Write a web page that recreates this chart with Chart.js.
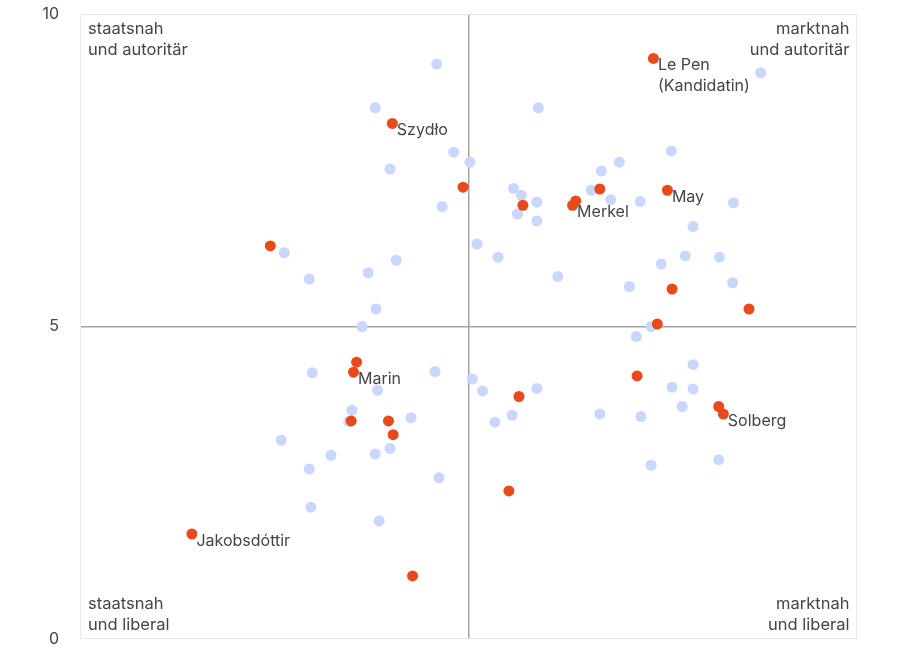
<!DOCTYPE html>
<html>
<head>
<meta charset="utf-8">
<script src="https://cdn.jsdelivr.net/npm/chart.js@4"></script>
<style>
  html, body { margin: 0; padding: 0; background: #fff; }
  #wrap { width: 900px; height: 650px; }
</style>
</head>
<body>
<div id="wrap"><canvas id="chart"></canvas></div>
<script>
// Regierungschefs (rot) und übrige Parteien (blau)
const leaderX = [7.38, 4.02, 2.45, 4.93, 5.70, 6.38, 6.34, 6.69, 7.56, 7.62, 8.61, 7.43,
                 7.17, 3.56, 3.52, 3.49, 3.97, 4.03, 5.65, 5.52, 8.22, 8.28, 1.44, 4.28];
const leaderY = [9.29, 8.25, 6.29, 7.23, 6.94, 7.01, 6.94, 7.20, 7.18, 5.60, 5.28, 5.04,
                 4.21, 4.43, 4.27, 3.49, 3.49, 3.27, 3.88, 2.37, 3.72, 3.60, 1.68, 1.01];
const leaderNames = ["Le Pen\n(Kandidatin)", "Szydło", "", "", "", "", "Merkel", "", "May", "", "", "",
                     "", "", "Marin", "", "", "", "", "", "", "Solberg", "Jakobsdóttir", ""];

const otherX = [4.59, 3.80, 3.99, 4.66, 2.63, 2.95, 3.71, 4.07, 3.81, 3.63, 4.81, 5.02,
                5.90, 8.76, 7.61, 6.94, 6.71, 5.58, 5.68, 5.88, 5.63, 5.88, 6.58, 6.83,
                7.21, 8.41, 7.89, 5.11, 5.38, 7.79, 8.23, 7.48, 6.15, 7.07, 8.40, 7.35,
                7.16, 2.99, 4.57, 3.83, 3.50, 3.46, 4.26, 2.59, 3.23, 2.95, 3.80, 3.99,
                4.62, 2.97, 3.85, 5.05, 5.18, 5.88, 7.89, 7.62, 7.89, 7.75, 5.34, 5.56,
                6.69, 7.22, 7.35, 8.22];
const otherY = [9.20, 8.50, 7.52, 6.92, 6.18, 5.76, 5.86, 6.06, 5.28, 5.00, 7.79, 7.63,
                8.50, 9.06, 7.81, 7.63, 7.49, 7.21, 7.10, 6.99, 6.80, 6.69, 7.18, 7.03,
                7.00, 6.98, 6.60, 6.32, 6.11, 6.13, 6.11, 6.00, 5.80, 5.64, 5.70, 5.00,
                4.84, 4.26, 4.28, 3.98, 3.66, 3.48, 3.54, 3.18, 2.94, 2.72, 2.96, 3.05,
                2.58, 2.11, 1.89, 4.16, 3.97, 4.01, 4.39, 4.03, 4.00, 3.72, 3.47, 3.58,
                3.60, 3.56, 2.78, 2.87];

const yTicks = [0, 5, 10];
const quadrantLabels = {
  topLeft: ["staatsnah", "und autoritär"],
  topRight: ["marktnah", "und autoritär"],
  bottomLeft: ["staatsnah", "und liberal"],
  bottomRight: ["marktnah", "und liberal"]
};

const FONT = "Inter, 'Noto Sans', sans-serif";
const TEXT = "#454545";

const toPoints = (xs, ys) => xs.map((x, i) => ({ x: x, y: ys[i] }));

const noPadding = s => {
  s.paddingTop = 0;
  s.paddingBottom = 0;
  s.paddingLeft = 0;
  s.paddingRight = 0;
};

// Rahmen, Quadrantentexte und Namen
const decorations = {
  id: 'decorations',
  beforeDatasetsDraw(chart) {
    const { ctx, chartArea: a } = chart;
    ctx.save();
    ctx.strokeStyle = '#e8e8e8';
    ctx.lineWidth = 1;
    ctx.strokeRect(a.left + 0.5, a.top + 0.5, a.right - a.left - 1, a.bottom - a.top - 1);
    ctx.restore();
  },
  afterDatasetsDraw(chart) {
    const { ctx, chartArea: a } = chart;
    const lh = 21.5;
    ctx.save();
    ctx.font = "16.5px " + FONT;
    ctx.fillStyle = TEXT;
    ctx.textBaseline = 'alphabetic';

    ctx.textAlign = 'left';
    quadrantLabels.topLeft.forEach((t, i) => ctx.fillText(t, a.left + 8, a.top + 19.5 + i * lh));
    quadrantLabels.bottomLeft.forEach((t, i) => ctx.fillText(t, a.left + 8, a.bottom - 30.5 + i * lh));
    ctx.textAlign = 'right';
    quadrantLabels.topRight.forEach((t, i) => ctx.fillText(t, a.right - 7.5, a.top + 19.5 + i * lh));
    quadrantLabels.bottomRight.forEach((t, i) => ctx.fillText(t, a.right - 7.5, a.bottom - 30.5 + i * lh));

    ctx.textAlign = 'left';
    ctx.font = "16px " + FONT;
    const meta = chart.getDatasetMeta(0);
    meta.data.forEach((pt, i) => {
      const name = leaderNames[i];
      if (!name) return;
      name.split("\n").forEach((line, j) => {
        ctx.fillText(line, pt.x + 4.5, pt.y + 11.5 + j * lh);
      });
    });
    ctx.restore();
  }
};

new Chart(document.getElementById('chart'), {
  type: 'scatter',
  data: {
    datasets: [
      {
        label: 'Regierungschefs',
        data: toPoints(leaderX, leaderY),
        backgroundColor: '#e94a1c',
        borderWidth: 0,
        pointRadius: 5.5,
        pointHoverRadius: 5.5,
        order: 0
      },
      {
        label: 'Parteien',
        data: toPoints(otherX, otherY),
        backgroundColor: '#cad7fc',
        borderWidth: 0,
        pointRadius: 5.5,
        pointHoverRadius: 5.5,
        order: 1
      }
    ]
  },
  options: {
    responsive: true,
    maintainAspectRatio: false,
    animation: false,
    layout: { padding: { top: 14, right: 43, bottom: 11, left: 0 } },
    plugins: {
      legend: { display: false },
      tooltip: { enabled: false }
    },
    scales: {
      x: {
        min: 0,
        max: 10,
        ticks: { display: false, stepSize: 5 },
        border: { display: false },
        grid: {
          drawTicks: false,
          lineWidth: 1.5,
          color: c => c.tick && c.tick.value === 5 ? '#a3a3a3' : 'rgba(0,0,0,0)'
        },
        afterFit: s => { s.height = 0; noPadding(s); }
      },
      y: {
        min: 0,
        max: 10,
        afterBuildTicks: s => { s.ticks = yTicks.map(v => ({ value: v })); },
        ticks: {
          padding: 21,
          color: TEXT,
          font: { family: FONT, size: 16 }
        },
        border: { display: false },
        grid: {
          drawTicks: false,
          lineWidth: 1.5,
          color: c => c.tick && c.tick.value === 5 ? '#a3a3a3' : 'rgba(0,0,0,0)'
        },
        afterFit: s => { s.width = 80; noPadding(s); }
      }
    }
  },
  plugins: [decorations]
});
</script>
</body>
</html>
